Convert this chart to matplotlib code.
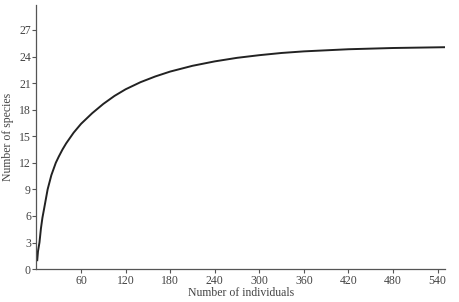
import matplotlib.pyplot as plt

# Rarefaction curve values
individuals = [1, 2, 4, 6, 8, 10, 15, 20, 26, 30, 35, 40, 50, 60, 75, 90, 105, 120, 140,
               160, 180, 210, 240, 270, 300, 330, 360, 420, 480, 550]
species = [1.0, 2.0, 3.0, 4.6, 5.8, 6.7, 9.0, 10.6, 12.0, 12.7, 13.5, 14.2, 15.4, 16.4,
           17.6, 18.65, 19.55, 20.3, 21.1, 21.75, 22.3, 22.95, 23.45, 23.85, 24.15, 24.4,
           24.58, 24.82, 24.96, 25.05]
x_ticks = [60, 120, 180, 240, 300, 360, 420, 480, 540]
y_ticks = [0, 3, 6, 9, 12, 15, 18, 21, 24, 27]

plt.rcParams['font.family'] = ['Liberation Serif', 'DejaVu Serif']

fig = plt.figure(figsize=(4.59, 3.02), dpi=100)
ax = fig.add_axes([0.0795, 0.109, 0.89, 0.874])

ax.plot(individuals, species, color='#222222', linewidth=1.4)

ax.set_xlim(0, 550)
ax.set_ylim(0, 29.8)
ax.set_xticks(x_ticks)
ax.set_yticks(y_ticks)
ax.tick_params(labelsize=8.5, length=3, width=0.8, colors='#555555', labelcolor='#444444', pad=1)

for side in ['top', 'right']:
    ax.spines[side].set_visible(False)
for side in ['left', 'bottom']:
    ax.spines[side].set_color('#555555')
    ax.spines[side].set_linewidth(0.9)

ax.set_xlabel("Number of individuals", fontsize=8.5, color='#444444', labelpad=0)
ax.set_ylabel("Number of species", fontsize=8.5, color='#444444', labelpad=4)

fig.savefig('out.png', dpi=100)
